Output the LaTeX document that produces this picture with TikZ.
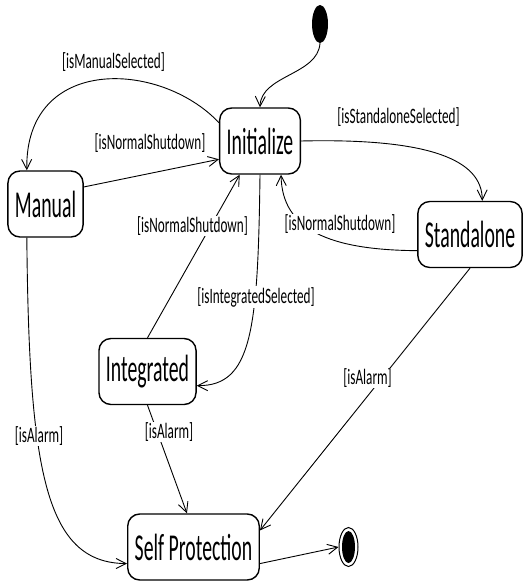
\documentclass[tikz,border=0pt]{standalone}
\usepackage{fontspec}
\usetikzlibrary{arrows.meta,shapes.geometric}
\newfontfamily\statefont[FakeStretch=0.52]{Carlito}
\newfontfamily\guardfont[FakeStretch=0.6]{Carlito}

\begin{document}
\begin{tikzpicture}[x=1pt,y=-1pt,
    stbox/.style={draw, line width=1.4pt, rounded corners=12pt, minimum height=66pt,
        inner xsep=7pt, inner ysep=0pt, font=\statefont\fontsize{38}{40}\selectfont},
    guard/.style={fill=white, inner sep=1pt, font=\guardfont\fontsize{22}{24}\selectfont},
    trans/.style={->, line width=0.9pt},
    >={Straight Barb[length=10pt,width=10pt]}]

            \useasboundingbox (0,0) rectangle (530,581);

            % states
            \node at (260,141) [stbox] (initialize) {Initialize};
            \node at (45.5,204) [stbox] (manual) {Manual};
            \node at (470,234.5) [stbox] (standalone) {Standalone};
            \node at (147.5,371.5) [stbox] (integrated) {Integrated};
            \node at (193.5,547) [stbox] (selfprot) {Self Protection};

            % initial and final
            \node at (320,24) [ellipse, fill=black, minimum width=16pt, minimum height=38pt, inner sep=0pt] (start) {};
            \node at (348.5,547) [ellipse, draw, line width=1pt, minimum width=19pt, minimum height=39pt, inner sep=0pt] (final) {};
            \node at (final) [ellipse, fill=black, minimum width=13pt, minimum height=32pt, inner sep=0pt] (finaldot) {};

            % transitions
            \draw[trans] (start.south) .. controls (318,75) and (261,75) .. (initialize.north);
            \draw[trans] (initialize.156) .. controls (160,60) and (25,55) .. (manual.119);
            \draw[trans] (manual.24) -- (initialize.204);
            \draw[trans] (initialize.east) .. controls (430,138) and (482,160) .. (standalone.70);
            \draw[trans] (standalone.197) .. controls (330,250) and (282,230) .. (initialize.302);
            \draw[trans] (integrated.north) -- (initialize.239);
            \draw[trans] (initialize.south) .. controls (258,330) and (252,386) .. (integrated.344);
            \draw[trans] (manual.241) .. controls (29,470) and (45,563) .. (selfprot.194);
            \draw[trans] (integrated.south) -- (selfprot.101);
            \draw[trans] (standalone.south) -- (selfprot.14);
            \draw[trans] (selfprot.346) -- (final.west);

            % guards
            \node at (113.5,62) [guard] (gManSel) {[isManualSelected]};
            \node at (150,143) [guard] (gNormMan) {[isNormalShutdown]};
            \node at (398.5,117) [guard] (gStdSel) {[isStandaloneSelected]};
            \node at (192.5,226) [guard] (gNormInt) {[isNormalShutdown]};
            \node at (340,224) [guard] (gNormStd) {[isNormalShutdown]};
            \node at (256,297) [guard] (gIntSel) {[isIntegratedSelected]};
            \node at (367.5,378) [guard] (gAlarmStd) {[isAlarm]};
            \node at (39,436) [guard] (gAlarmMan) {[isAlarm]};
            \node at (169,432) [guard] (gAlarmInt) {[isAlarm]};

\end{tikzpicture}
\end{document}
